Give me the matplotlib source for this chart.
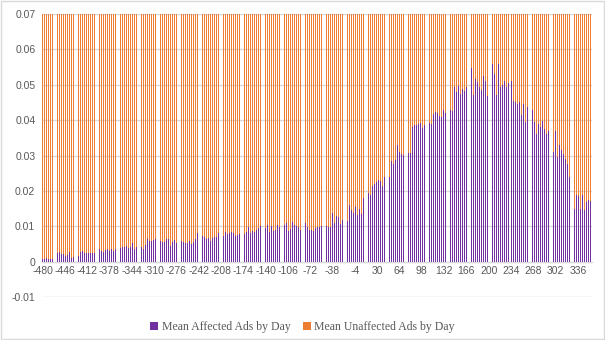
import numpy as np
import matplotlib.pyplot as plt

# day index relative to the event, one bar per day
first_day = -480
last_day = 357

# mean affected ads per day, in units of 1e-4, one row per 34 days
affected_e4 = [
    8, 10, 12, 9, 11, 8, 10, 12, 9, 7, 10, 11, 9, 12, 10, 8, 11, 10, 13, 10, 11, 12, 22, 24, 20, 14, 28, 16, 12, 21, 25, 19, 23, 18,
    20, 15, 26, 22, 18, 24, 30, 27, 21, 25, 12, 9, 10, 14, 15, 13, 15, 12, 16, 14, 11, 15, 13, 25, 27, 22, 28, 30, 24, 29, 26, 31, 27, 25,
    28, 30, 25, 27, 32, 26, 29, 27, 24, 28, 22, 26, 28, 38, 37, 30, 35, 33, 28, 36, 34, 31, 29, 33, 30, 27, 37, 36, 32, 34, 29, 35, 31, 33,
    30, 27, 38, 37, 33, 35, 31, 28, 34, 36, 40, 45, 30, 43, 33, 43, 57, 38, 40, 36, 42, 38, 45, 41, 35, 39, 44, 37, 42, 40, 38, 48, 43, 49,
    42, 52, 43, 45, 36, 43, 47, 41, 49, 38, 44, 46, 40, 48, 52, 43, 50, 41, 37, 45, 42, 47, 55, 60, 64, 64, 38, 60, 67, 52, 58, 49, 55, 62,
    55, 60, 64, 50, 58, 63, 48, 56, 61, 52, 59, 66, 54, 57, 51, 62, 55, 49, 58, 63, 52, 52, 63, 66, 50, 45, 66, 53, 56, 60, 57, 62, 54, 59,
    52, 63, 66, 50, 45, 66, 53, 56, 58, 61, 49, 55, 64, 57, 52, 60, 65, 54, 50, 62, 59, 56, 63, 51, 58, 66, 55, 60, 53, 64, 57, 61, 80, 70,
    60, 55, 58, 75, 82, 68, 72, 65, 62, 70, 66, 58, 64, 69, 73, 67, 62, 65, 58, 68, 72, 66, 69, 83, 71, 64, 76, 70, 67, 74, 80, 69, 72, 78,
    62, 65, 58, 68, 72, 66, 69, 83, 75, 70, 78, 73, 68, 80, 76, 71, 85, 79, 74, 82, 77, 88, 72, 79, 84, 76, 81, 90, 78, 86, 74, 83, 80, 87,
    82, 68, 78, 75, 93, 85, 93, 97, 99, 88, 92, 80, 95, 102, 86, 90, 98, 84, 93, 100, 89, 105, 91, 96, 82, 94, 101, 87, 97, 92, 104, 89, 95, 99,
    95, 80, 88, 105, 92, 76, 85, 98, 90, 102, 84, 94, 88, 100, 106, 91, 83, 96, 104, 89, 93, 99, 86, 101, 95, 108, 90, 97, 85, 103, 92, 98, 110, 94,
    100, 88, 96, 108, 92, 86, 98, 113, 95, 90, 104, 99, 87, 101, 94, 107, 97, 91, 105, 89, 100, 111, 93, 98, 102, 86, 96, 109, 92, 104, 99, 95, 107, 90,
    98, 105, 91, 110, 96, 88, 102, 107, 94, 100, 112, 97, 89, 104, 99, 108, 93, 101, 95, 110, 103, 92, 106, 98, 115, 100, 94, 109, 97, 104, 111, 99, 137, 140,
    138, 135, 102, 110, 122, 104, 130, 118, 112, 126, 100, 115, 108, 121, 125, 117, 106, 130, 119, 128, 112, 124, 135, 116, 140, 122, 160, 155, 128, 145, 120, 150, 138, 162,
    125, 155, 118, 140, 132, 165, 120, 150, 170, 145, 135, 175, 158, 180, 162, 150, 190, 172, 185, 200, 165, 195, 178, 210, 188, 225, 200, 215, 230, 195, 220, 235, 208, 225,
    230, 228, 232, 225, 235, 229, 231, 222, 215, 265, 255, 240, 310, 340, 226, 220, 245, 250, 262, 238, 270, 258, 285, 268, 300, 275, 295, 312, 288, 320, 305, 330, 298, 335,
    310, 305, 300, 303, 308, 300, 302, 310, 306, 301, 304, 309, 303, 300, 307, 305, 302, 306, 300, 304, 380, 392, 376, 385, 390, 378, 386, 393, 380, 388, 375, 384, 391, 382,
    387, 379, 393, 381, 385, 390, 376, 384, 380, 352, 378, 360, 392, 345, 370, 388, 395, 405, 418, 410, 400, 423, 415, 408, 420, 404, 395, 412, 398, 425, 410, 402, 418, 430,
    415, 428, 420, 432, 410, 425, 418, 430, 422, 412, 428, 435, 420, 426, 432, 418, 495, 488, 500, 480, 490, 478, 496, 485, 492, 475, 498, 470, 487, 500, 465, 482, 498, 476,
    495, 470, 510, 488, 530, 465, 520, 452, 548, 490, 505, 470, 535, 500, 515, 480, 545, 508, 470, 530, 495, 552, 518, 485, 540, 500, 525, 478, 555, 510, 490, 535, 468, 520,
    500, 515, 548, 480, 545, 510, 560, 500, 475, 530, 490, 520, 470, 545, 505, 560, 480, 520, 495, 470, 462, 500, 530, 485, 510, 470, 520, 495, 475, 515, 505, 490, 525, 508,
    520, 510, 485, 500, 455, 440, 470, 452, 448, 460, 445, 430, 455, 450, 425, 458, 415, 440, 430, 445, 420, 435, 395, 448, 410, 438, 402, 445, 380, 420, 410, 435, 395, 428,
    440, 418, 395, 372, 385, 362, 378, 370, 390, 365, 412, 380, 435, 372, 398, 368, 445, 375, 380, 392, 360, 372, 350, 368, 300, 340, 275, 320, 365, 285, 330, 310, 345, 290,
    370, 285, 320, 295, 310, 265, 330, 298, 255, 315, 345, 280, 305, 260, 325, 290, 250, 300, 275, 310, 265, 240, 210, 175, 190, 160, 180, 165, 185, 150, 178, 170, 188, 162,
    175, 185, 195, 160, 150, 180, 198, 188, 172, 190, 145, 178, 186, 170, 182, 175, 174, 168, 180, 172, 176, 174,
]

# unaffected ads run off the top of the chart; rough level per 34-day block
unaffected_block = [0.21, 0.22, 0.22, 0.23, 0.23, 0.24, 0.24, 0.25, 0.25, 0.26, 0.26, 0.27, 0.27,
                    0.28, 0.28, 0.27, 0.26, 0.25, 0.24, 0.23, 0.22, 0.21, 0.20, 0.19, 0.18]

tick_days = list(range(-480, 337, 34))

days = np.arange(first_day, last_day + 1)
affected = np.array(affected_e4) / 10000.0
unaffected = np.repeat(unaffected_block, 34)[:len(days)]

purple = '#7030a0'
orange = '#ed7d31'
grid_c = '#d9d9d9'
text_c = '#595959'

fig = plt.figure(figsize=(6.05, 3.40), dpi=100)
# ~0.656 px per day, so the unsmoothed thin bars fall into stripes like the original export
ax = fig.add_axes([0.069777, 0.126, 0.908752, 0.833])

bw = 0.43
b1 = ax.bar(days, affected, width=bw, color=purple, linewidth=0, antialiased=False,
            label='Mean Affected Ads by Day')
b2 = ax.bar(days, unaffected, width=bw, bottom=affected, color=orange, linewidth=0,
            antialiased=False, label='Mean Unaffected Ads by Day')

ax.set_xlim(first_day - 0.5, last_day + 0.5)
ax.set_ylim(-0.01, 0.07)
ax.set_yticks(np.arange(-0.01, 0.0701, 0.01))
ax.set_yticklabels(['-0.01', '0', '0.01', '0.02', '0.03', '0.04', '0.05', '0.06', '0.07'])
ax.set_xticks(tick_days)
ax.set_xticklabels([str(d) for d in tick_days])
ax.yaxis.grid(True, color=grid_c, linewidth=1)
ax.set_axisbelow(True)

for s in ['top', 'right', 'left']:
    ax.spines[s].set_visible(False)
ax.spines['bottom'].set_position(('data', 0))
ax.spines['bottom'].set_color(grid_c)
ax.tick_params(axis='both', length=0, labelsize=7.5, colors=text_c, pad=3)
ax.tick_params(axis='y', pad=5)
for lab in ax.get_xticklabels() + ax.get_yticklabels():
    lab.set_fontfamily('Liberation Sans')

fig.legend(handles=[b1, b2], loc='center', bbox_to_anchor=(0.5, 1 - 327 / 340), ncol=2,
           frameon=False, handlelength=0.7, handleheight=0.7, handletextpad=0.3, columnspacing=1.0,
           prop={'family': 'Liberation Serif', 'size': 8.5}, labelcolor=text_c)

fig.patches.append(plt.Rectangle((0.0015, 0.0015), 0.997, 0.995, transform=fig.transFigure,
                                 fill=False, edgecolor=grid_c, linewidth=1))

fig.savefig('out.png', dpi=100)
